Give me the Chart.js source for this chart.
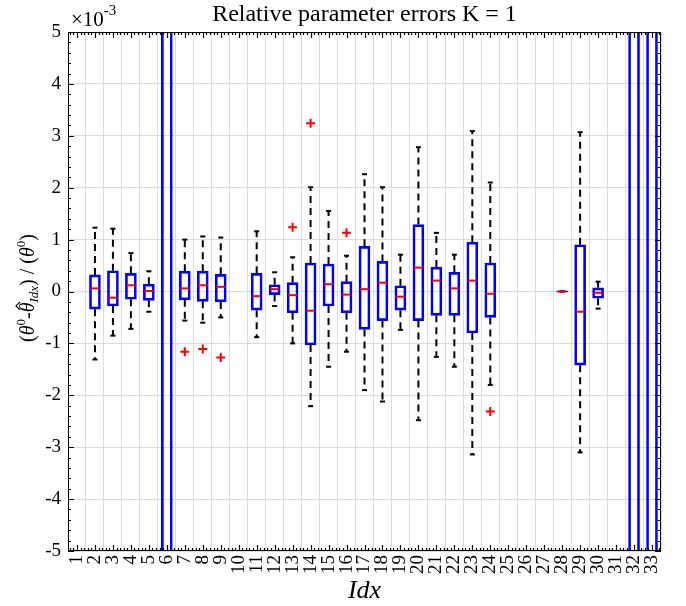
<!DOCTYPE html>
<html>
<head>
<meta charset="utf-8">
<script src="https://cdn.jsdelivr.net/npm/chart.js@4.4.1/dist/chart.umd.min.js"></script>
<style>
  body { margin: 0; background: #fff; }
  #wrap { width: 686px; height: 606px; }
</style>
</head>
<body>
<div id="wrap"><canvas id="box_chart" width="686" height="606"></canvas></div>
<script>
// values are in units of 1e-3 (axis multiplier shown top-left)
const idx = [1, 2, 3, 4, 5, 6, 7, 8, 9, 10, 11, 12, 13, 14, 15, 16, 17, 18, 19, 20, 21, 22, 23, 24, 25, 26, 27, 28, 29, 30, 31, 32, 33];
const boxLow = [null, -0.34, -0.28, -0.15, -0.17, -30, -0.16, -0.19, -0.20, null, -0.36, -0.06, -0.41, -1.03, -0.28, -0.41, -0.73,
  -0.56, -0.36, -0.56, -0.46, -0.46, -0.80, -0.50, null, null, null, -0.01, -1.42, -0.13, null, -30, -30];
const boxHigh = [null, 0.32, 0.40, 0.35, 0.14, 30, 0.39, 0.39, 0.33, null, 0.35, 0.13, 0.17, 0.55, 0.53, 0.19, 0.87,
  0.58, 0.11, 1.29, 0.47, 0.37, 0.95, 0.55, null, null, null, 0.01, 0.90, 0.07, null, 30, 30];
const medians = [null, 0.06, -0.12, 0.12, 0.01, 12, 0.06, 0.12, 0.09, null, -0.09, 0.045, -0.07, -0.37, 0.14, -0.06, 0.045,
  0.17, -0.10, 0.46, 0.21, 0.06, 0.21, -0.045, null, null, null, 0.0, -0.39, -0.025, null, 12, -12];
const whiskLow = [null, -1.31, -0.85, -0.72, -0.39, -60, -0.56, -0.60, -0.50, null, -0.88, -0.28, -1.00, -2.21, -1.45, -1.16, -1.90,
  -2.12, -0.74, -2.48, -1.26, -1.45, -3.14, -1.80, null, null, null, 0.0, -3.10, -0.33, null, -60, -60];
const whiskHigh = [null, 1.23, 1.21, 0.74, 0.39, 60, 1.00, 1.06, 1.04, null, 1.16, 0.37, 0.66, 2.01, 1.55, 0.69, 2.26,
  2.01, 0.71, 2.78, 1.13, 0.71, 3.09, 2.10, null, null, null, 0.0, 3.07, 0.19, null, 60, 60];
const outlierIdx = [7, 8, 9, 13, 14, 16, 24];
const outlierVal = [-1.16, -1.11, -1.27, 1.24, 3.24, 1.13, -2.31];
const yTicks = [-5, -4, -3, -2, -1, 0, 1, 2, 3, 4, 5];

const SERIF = "'Liberation Serif', 'DejaVu Serif', serif";

let boxes = [], whiskers = [], caps = [], meds = [];
idx.forEach((k, i) => {
  if (boxLow[i] === null) return;
  boxes.push({ x: k, y: [boxLow[i], boxHigh[i]] });
  whiskers.push({ x: k, y: boxHigh[i] }, { x: k, y: whiskHigh[i] }, { x: k, y: null });
  whiskers.push({ x: k, y: boxLow[i] }, { x: k, y: whiskLow[i] }, { x: k, y: null });
  caps.push({ x: k, y: whiskHigh[i] }, { x: k, y: whiskLow[i] });
  meds.push({ x: k, y: medians[i] });
});
const outliers = outlierIdx.map((k, i) => ({ x: k, y: outlierVal[i] }));

function drawRuns(ctx, runs, x, y) {
  let total = 0;
  runs.forEach(r => { ctx.font = r.font; r.w = ctx.measureText(r.text).width; total += r.w; });
  let cx = x - total / 2;
  runs.forEach(r => {
    ctx.font = r.font;
    ctx.fillText(r.text, cx, y + (r.dy || 0));
    if (r.hat) {
      // circumflex over the glyph
      const mx = cx + r.w / 2 + 1.5, top = y - r.hat;
      ctx.beginPath();
      ctx.moveTo(mx - 4, top + 3);
      ctx.lineTo(mx, top - 1);
      ctx.lineTo(mx + 4, top + 3);
      ctx.lineWidth = 1.2;
      ctx.stroke();
    }
    cx += r.w;
  });
}

const decorations = {
  id: 'decorations',
  afterDraw(chart) {
    const { ctx, chartArea: a, scales: { x, y } } = chart;
    ctx.save();
    ctx.strokeStyle = '#000';
    ctx.lineWidth = 1.2;
    ctx.beginPath();
    for (let k = -25; k <= 25; k++) {
      const py = Math.round(y.getPixelForValue(k / 5)) + 0.5;
      const len = k % 5 === 0 ? 6 : 3;
      ctx.moveTo(a.left, py); ctx.lineTo(a.left + len, py);
      ctx.moveTo(a.right, py); ctx.lineTo(a.right - len, py);
    }
    for (let k = 3; k <= 167; k++) {
      const px = Math.round(x.getPixelForValue(k / 5)) + 0.5;
      const len = k % 5 === 0 ? 6 : 3;
      ctx.moveTo(px, a.bottom); ctx.lineTo(px, a.bottom - len);
      ctx.moveTo(px, a.top); ctx.lineTo(px, a.top + len);
    }
    ctx.stroke();
    ctx.lineWidth = 1;
    ctx.strokeRect(a.left + 0.5, a.top + 0.5, a.right - a.left - 1, a.bottom - a.top - 1);

    ctx.fillStyle = '#000';
    ctx.textBaseline = 'alphabetic';
    ctx.textAlign = 'left';
    // title
    drawRuns(ctx, [{ text: 'Relative parameter errors K = 1', font: '24px ' + SERIF }], (a.left + a.right) / 2, 21);
    // exponent
    ctx.font = '21px ' + SERIF;
    ctx.fillText('\u00d710', 71, 26);
    const w10 = ctx.measureText('\u00d710').width;
    ctx.font = '15px ' + SERIF;
    ctx.fillText('-3', 71 + w10, 15);
    // x title
    drawRuns(ctx, [{ text: 'Idx', font: 'italic 26px ' + SERIF }], (a.left + a.right) / 2, 598);
    // y title
    ctx.translate(34, 288);
    ctx.rotate(-Math.PI / 2);
    const n = '20px ' + SERIF, it = 'italic 20px ' + SERIF, sm = '13px ' + SERIF, smi = 'italic 13px ' + SERIF;
    drawRuns(ctx, [
      { text: '(', font: n }, { text: '\u03b8', font: it }, { text: '0', font: sm, dy: -9 },
      { text: '-', font: n }, { text: '\u03b8', font: it, hat: 17 }, { text: 'Idx', font: smi, dy: 4 },
      { text: ') / (', font: n }, { text: '\u03b8', font: it }, { text: '0', font: sm, dy: -9 },
      { text: ')', font: n }
    ], 0, 0);
    ctx.restore();
  }
};

new Chart(document.getElementById('box_chart'), {
  type: 'bar',
  data: {
    datasets: [
      {
        type: 'bar', data: boxes, order: 3,
        backgroundColor: 'rgba(0,0,0,0)', borderColor: '#0000ff', borderWidth: 2,
        borderSkipped: false, barThickness: 11, clip: 0
      },
      {
        type: 'line', data: whiskers, order: 5, spanGaps: false,
        borderColor: '#000', borderWidth: 2, borderDash: [7, 5], pointRadius: 0, clip: 0
      },
      {
        type: 'line', data: caps, order: 4, showLine: false,
        pointStyle: 'line', pointRadius: 2.5, borderColor: '#000', pointBorderWidth: 2, clip: 0
      },
      {
        type: 'line', data: meds, order: 2, showLine: false,
        pointStyle: 'line', pointRadius: 4.5, borderColor: '#ff0000', pointBorderWidth: 2, clip: 0
      },
      {
        type: 'line', data: outliers, order: 1, showLine: false,
        pointStyle: 'cross', pointRadius: 4.5, borderColor: '#ff0000', pointBorderWidth: 2, clip: 0
      }
    ]
  },
  options: {
    responsive: false,
    animation: false,
    layout: { padding: { top: 32, right: 25, left: 0, bottom: 0 } },
    plugins: { legend: { display: false }, tooltip: { enabled: false } },
    scales: {
      x: {
        type: 'linear', min: 0.5, max: 33.5, offset: false,
        afterBuildTicks: s => { s.ticks = idx.map(v => ({ value: v })); },
        afterFit: s => { s.height = 55; },
        grid: { color: '#dcdcdc', drawTicks: false },
        border: { display: false },
        ticks: {
          autoSkip: false, minRotation: 90, maxRotation: 90, padding: 4,
          color: '#000', font: { family: SERIF, size: 19 }
        }
      },
      y: {
        min: -5, max: 5,
        afterBuildTicks: s => { s.ticks = yTicks.map(v => ({ value: v })); },
        afterFit: s => { s.width = 68; },
        grid: { color: '#dcdcdc', drawTicks: false },
        border: { display: false },
        ticks: { padding: 7, color: '#000', font: { family: SERIF, size: 19 } }
      }
    }
  },
  plugins: [decorations]
});
</script>
</body>
</html>
